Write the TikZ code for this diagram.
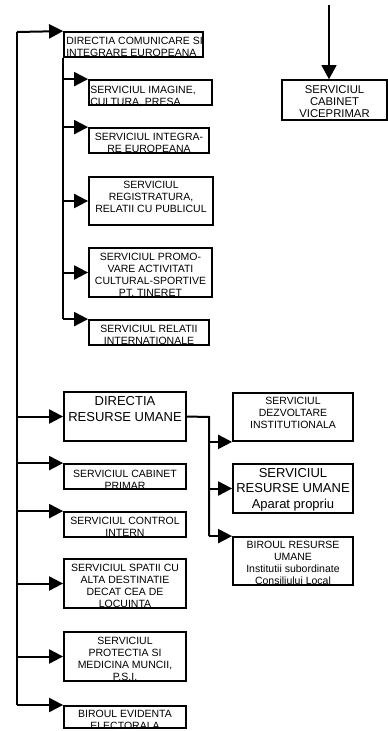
\documentclass[tikz,border=0pt]{standalone}
\usepackage{fontspec}
\setmainfont{Liberation Sans}
\usetikzlibrary{arrows.meta}
\tikzset{
  box/.style={draw, line width=1.8pt, inner sep=0pt, rectangle},
  ln/.style={line width=2pt},
  arr/.style={line width=2pt, -{Triangle[length=14pt,width=14pt]}},
  thinarr/.style={line width=1.2pt, -{Triangle[length=14pt,width=15pt]}},
  sm/.style={inner sep=0pt, align=center, anchor=north, font=\fontsize{10.5}{12}\selectfont},
  sml/.style={inner sep=0pt, align=left, anchor=north west, font=\fontsize{10.5}{12}\selectfont},
  bg/.style={inner sep=0pt, align=center, anchor=north, font=\fontsize{13}{15.5}\selectfont},
  md/.style={inner sep=0pt, align=center, anchor=north, font=\fontsize{11.3}{11.7}\selectfont},
}
\begin{document}
\begin{tikzpicture}[x=1pt,y=-1pt]
\useasboundingbox (0,0) rectangle (388,731);
% boxes
\node[box, minimum width=139pt, minimum height=25pt] (dcom) at (133.5,44.5) {};
\node[box, minimum width=123pt, minimum height=25pt] (img) at (150.5,92.5) {};
\node[box, minimum width=120pt, minimum height=25pt] (integ) at (149,140.5) {};
\node[box, minimum width=124pt, minimum height=48pt] (reg) at (151,201) {};
\node[box, minimum width=123pt, minimum height=49pt] (prom) at (150.5,272.5) {};
\node[box, minimum width=120pt, minimum height=25pt] (relint) at (149,332.5) {};
\node[box, minimum width=122pt, minimum height=49pt] (dru) at (125,416.5) {};
\node[box, minimum width=122pt, minimum height=25pt] (cabp) at (125,476.5) {};
\node[box, minimum width=122pt, minimum height=25pt] (ctrl) at (125,524.5) {};
\node[box, minimum width=122pt, minimum height=49pt] (spatii) at (125,583.5) {};
\node[box, minimum width=122pt, minimum height=49pt] (prot) at (125,656.5) {};
\node[box, minimum width=122pt, minimum height=22pt] (evid) at (125,717) {};
\node[box, minimum width=120pt, minimum height=48pt] (dezv) at (293,417) {};
\node[box, minimum width=120pt, minimum height=49pt] (rup) at (293,488.5) {};
\node[box, minimum width=120pt, minimum height=48pt] (biru) at (293,561) {};
\node[box, line width=1.6pt, minimum width=105pt, minimum height=40pt] (vice) at (334.5,100) {};
% texts
\node[sml] (tdcom) at ([xshift=3pt,yshift=-5.8pt]dcom.north west) {DIRECTIA COMUNICARE SI\\INTEGRARE EUROPEANA};
\node[sml] (timg) at ([xshift=2pt,yshift=-6.6pt]img.north west) {SERVICIUL IMAGINE,\\CULTURA, PRESA};
\node[sm] (tinteg) at ([yshift=-5.8pt]integ.north) {SERVICIUL INTEGRA-\\RE EUROPEANA};
\node[sm] (treg) at ([yshift=-5pt]reg.north) {SERVICIUL\\REGISTRATURA,\\RELATII CU PUBLICUL};
\node[sm] (tprom) at ([yshift=-5.8pt]prom.north) {SERVICIUL PROMO-\\VARE ACTIVITATI\\CULTURAL-SPORTIVE\\PT. TINERET};
\node[sm] (trelint) at ([yshift=-5.8pt]relint.north) {SERVICIUL RELATII\\INTERNATIONALE};
\node[bg] (tdru) at ([yshift=-5.5pt]dru.north) {DIRECTIA\\RESURSE UMANE};
\node[sm] (tcabp) at ([yshift=-6.4pt]cabp.north) {SERVICIUL CABINET\\PRIMAR};
\node[sm] (tctrl) at ([yshift=-5.8pt]ctrl.north) {SERVICIUL CONTROL\\INTERN};
\node[sm] (tspatii) at ([yshift=-6.2pt]spatii.north) {SERVICIUL SPATII CU\\ALTA DESTINATIE\\DECAT CEA DE\\LOCUINTA};
\node[sm] (tprot) at ([yshift=-5.8pt]prot.north) {SERVICIUL\\PROTECTIA SI\\MEDICINA MUNCII,\\P.S.I.};
\node[sm] (tevid) at ([yshift=-4.6pt]evid.north) {BIROUL EVIDENTA\\ELECTORALA};
\node[sm] (tdezv) at ([yshift=-4.8pt]dezv.north) {SERVICIUL\\DEZVOLTARE\\INSTITUTIONALA};
\node[bg] (trup) at ([yshift=-5pt]rup.north) {SERVICIUL\\RESURSE UMANE\\Aparat propriu};
\node[sm] (tbiru) at ([yshift=-4.8pt]biru.north) {BIROUL RESURSE\\UMANE\\Institutii subordinate\\Consiliului Local};
\node[md] (tvice) at ([yshift=-6.6pt]vice.north) {SERVICIUL\\CABINET\\VICEPRIMAR};
% trunk
\coordinate (T1) at (17,32);
\coordinate (T2) at (17,705);
\draw[ln] (T1) -- (T2);
\draw[arr] (T1) -- (dcom.north west);
\draw[arr] (T1 |- dru.west) -- (dru.west);
\draw[arr] (T1 |- cabp.north west) -- (cabp.north west);
\draw[arr] (T1 |- ctrl.north west) -- (ctrl.north west);
\draw[arr] (T1 |- spatii.west) -- (spatii.west);
\draw[arr] (T1 |- prot.west) -- (prot.west);
\draw[arr] (T2) -- (T2 -| evid.west);
% sub branch
\draw[ln] (dcom.south west) -- (dcom.south west |- relint.north west);
\draw[arr] (dcom.south west |- img.north west) -- (img.north west);
\draw[arr] (dcom.south west |- integ.north west) -- (integ.north west);
\draw[arr] (dcom.south west |- reg.west) -- (reg.west);
\draw[arr] (dcom.south west |- prom.west) -- (prom.west);
\draw[arr] (dcom.south west |- relint.north west) -- (relint.north west);
% right branch
\coordinate (RX) at (209,417);
\draw[ln] (dru.east) -- (RX) -- (RX |- biru.north west);
\draw[arr] (RX |- dezv.south west) -- (dezv.south west);
\draw[arr] (RX |- rup.west) -- (rup.west);
\draw[arr] (RX |- biru.north west) -- (biru.north west);
% vice
\coordinate (VT) at (329,5);
\draw[thinarr] (VT) -- (VT |- vice.north);
\end{tikzpicture}
\end{document}
